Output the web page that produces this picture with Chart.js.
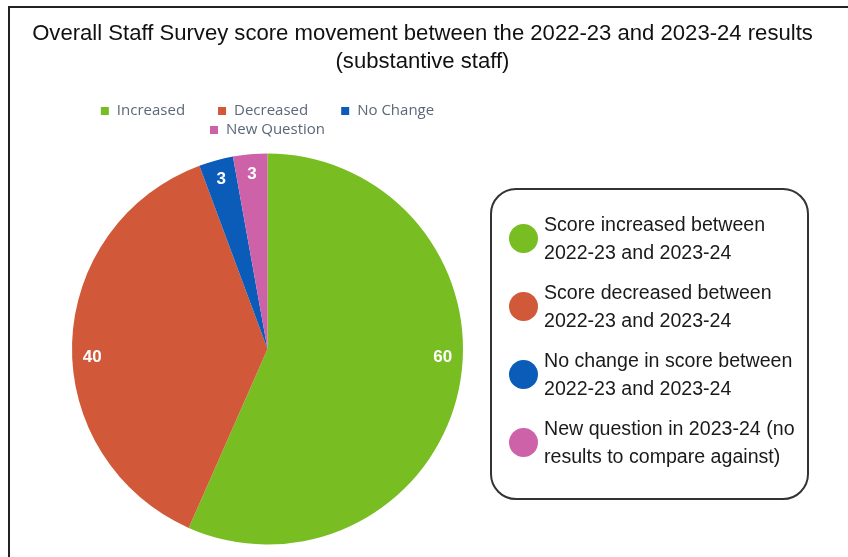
<!DOCTYPE html>
<html>
<head>
<meta charset="utf-8">
<script src="https://cdn.jsdelivr.net/npm/chart.js@4.4.1/dist/chart.umd.min.js"></script>
<style>
  body { margin: 0; background: #fff; }
  #wrap { position: relative; width: 848px; height: 557px; overflow: hidden; }
  #frame { position: absolute; left: 8px; top: 6px; width: 900px; height: 600px; border: 2px solid #222; }
  #pie { position: absolute; left: 0; top: 0; }
  #title {
    position: absolute; left: 0; top: 19px; width: 845px; text-align: center;
    font-family: "Liberation Sans", Arial, sans-serif; font-size: 22.1px; line-height: 27.5px; color: #111;
  }
  #keyBox {
    position: absolute; left: 490px; top: 188px; width: 319px; height: 312px;
    box-sizing: border-box; border: 2px solid #333; border-radius: 26px;
    padding: 20px 0 0 17px;
    font-family: "Liberation Sans", Arial, sans-serif; font-size: 19.6px; line-height: 28px; color: #1a1a1a;
  }
  .keyItem { display: flex; align-items: center; margin-bottom: 12px; white-space: nowrap; }
  .dot { width: 29px; height: 29px; border-radius: 50%; margin-right: 6px; flex: none; }
</style>
</head>
<body>
<div id="wrap">
  <div id="frame"></div>
  <canvas id="pie" width="848" height="557"></canvas>
  <div id="title"></div>
  <div id="keyBox"></div>
</div>
<script>
// data
const titleLines = ['Overall Staff Survey score movement between the 2022-23 and 2023-24 results', '(substantive staff)'];
const categories = ['Increased', 'Decreased', 'No Change', 'New Question'];
const counts = [60, 40, 3, 3];
const sliceColors = ['#78BD21', '#D1593A', '#0A5CB8', '#CE62A9'];
const keyTexts = [
  ['Score increased between', '2022-23 and 2023-24'],
  ['Score decreased between', '2022-23 and 2023-24'],
  ['No change in score between', '2022-23 and 2023-24'],
  ['New question in 2023-24 (no', 'results to compare against)']
];

document.getElementById('title').innerHTML = titleLines.join('<br>');

// right-hand key box
const keyBox = document.getElementById('keyBox');
keyTexts.forEach((lines, i) => {
  const item = document.createElement('div');
  item.className = 'keyItem';
  const dot = document.createElement('div');
  dot.className = 'dot';
  dot.style.background = sliceColors[i];
  const txt = document.createElement('div');
  txt.innerHTML = lines.join('<br>');
  item.appendChild(dot);
  item.appendChild(txt);
  keyBox.appendChild(item);
});

// small square legend above the pie, wraps inside the chart area width
const topLegend = {
  id: 'topLegend',
  afterDraw(chart) {
    const { ctx, chartArea } = chart;
    const ds = chart.data.datasets[0];
    const box = 8, gap = 33, textGap = 8;
    ctx.save();
    ctx.font = '15px "Open Sans", sans-serif';
    ctx.textBaseline = 'middle';
    const items = chart.data.labels.map((l, i) => ({
      label: l, color: ds.backgroundColor[i],
      w: box + textGap + ctx.measureText(l).width
    }));
    const rows = [[]];
    let rowW = 0;
    const maxW = chartArea.right - chartArea.left;
    items.forEach(it => {
      const add = rows[rows.length - 1].length ? gap + it.w : it.w;
      if (rowW + add > maxW) { rows.push([it]); rowW = it.w; }
      else { rows[rows.length - 1].push(it); rowW += add; }
    });
    const cx = (chartArea.left + chartArea.right) / 2;
    rows.forEach((row, r) => {
      const total = row.reduce((s, it) => s + it.w, 0) + gap * (row.length - 1);
      let x = cx - total / 2;
      const y = chartArea.top - 42 + r * 19;
      row.forEach(it => {
        ctx.fillStyle = it.color;
        ctx.fillRect(x, y - box / 2, box, box);
        ctx.fillStyle = '#5A6878';
        ctx.fillText(it.label, x + box + textGap, y);
        x += it.w + gap;
      });
    });
    ctx.restore();
  }
};

// white value labels near the edge of each slice
const sliceLabels = {
  id: 'sliceLabels',
  afterDatasetsDraw(chart) {
    const { ctx } = chart;
    const meta = chart.getDatasetMeta(0);
    ctx.save();
    ctx.font = 'bold 17px "Liberation Sans", Arial, sans-serif';
    ctx.fillStyle = '#fff';
    ctx.textAlign = 'center';
    ctx.textBaseline = 'middle';
    meta.data.forEach((arc, i) => {
      const { x, y, startAngle, endAngle, outerRadius } = arc.getProps(['x', 'y', 'startAngle', 'endAngle', 'outerRadius'], true);
      let a = (startAngle + endAngle) / 2;
      // big slices crossing the horizontal get their label just below the horizontal
      [0, Math.PI, 2 * Math.PI].forEach(h => {
        if (startAngle < h && endAngle > h) a = h + (h === Math.PI ? -0.05 : 0.05);
      });
      const r = outerRadius - 20;
      ctx.fillText(String(chart.data.datasets[0].data[i]), x + Math.cos(a) * r, y + Math.sin(a) * r);
    });
    ctx.restore();
  }
};

new Chart(document.getElementById('pie'), {
  type: 'pie',
  data: {
    labels: categories,
    datasets: [{
      data: counts,
      backgroundColor: sliceColors,
      borderWidth: 0
    }]
  },
  options: {
    responsive: false,
    animation: false,
    layout: { padding: { left: 72, right: 385, top: 153, bottom: 12 } },
    plugins: {
      title: { display: false },
      legend: { display: false },
      tooltip: { enabled: false }
    }
  },
  plugins: [topLegend, sliceLabels]
});
</script>
</body>
</html>
